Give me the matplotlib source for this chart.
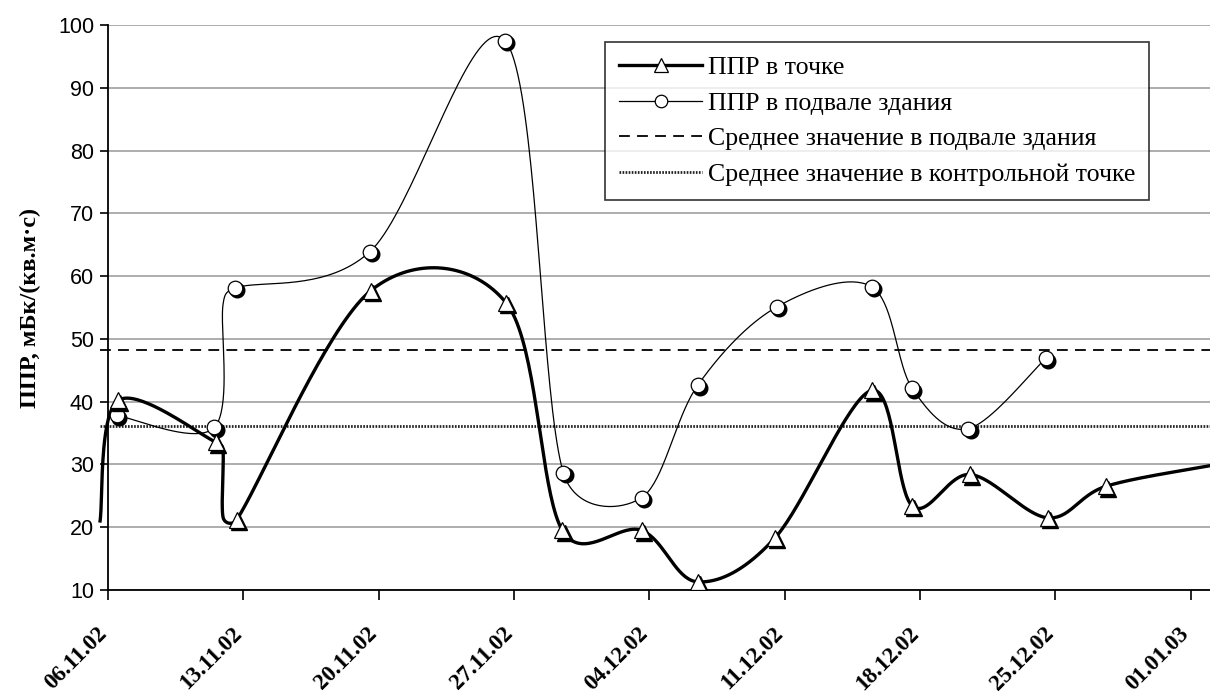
import numpy as np
import matplotlib
matplotlib.use('Agg')
import matplotlib.pyplot as plt
from matplotlib import font_manager, transforms
from matplotlib.lines import Line2D

# ---------------- data ----------------
# x = days since 06.11.02
tick_days = [0, 7, 14, 21, 28, 35, 42, 49, 56]
tick_labels = ['06.11.02', '13.11.02', '20.11.02', '27.11.02', '04.12.02',
               '11.12.02', '18.12.02', '25.12.02', '01.01.03']

point_days = [-0.41, 0.53, 5.6, 5.95, 5.95, 6.66, 13.6, 20.6, 23.5, 27.6,
              30.5, 34.5, 39.5, 41.6, 44.6, 48.6, 51.6, 57.0]
point_vals = [21.0, 40.2, 33.5, 32.3, 21.6, 21.2, 57.7, 55.7, 19.5, 19.5,
              11.3, 18.3, 41.8, 23.4, 28.4, 21.5, 26.5, 29.8]
point_shown = [0, 1, 1, 0, 0, 1, 1, 1, 1, 1, 1, 1, 1, 1, 1, 1, 1, 0]

base_days = [0.45, 5.5, 5.95, 6.57, 13.55, 20.54, 23.55, 27.6, 30.5,
             34.6, 39.5, 41.6, 44.5, 48.5]
base_vals = [37.8, 35.9, 55.5, 58.1, 63.9, 97.5, 28.7, 24.7, 42.6,
             55.1, 58.3, 42.1, 35.7, 46.9]
base_shown = [1, 1, 0, 1, 1, 1, 1, 1, 1, 1, 1, 1, 1, 1]

mean_base = 48.2
mean_point = 36.2

labels = ['ППР в точке', 'ППР в подвале здания',
          'Среднее значение в подвале здания',
          'Среднее значение в контрольной точке']
ylabel = 'ППР, мБк/(кв.м·с)'

# ---------------- layout ----------------
L, R, T, B = 108, 1210, 25, 590
XMIN, XMAX, YMIN, YMAX = 0, 57.0, 10, 100
SX = (R - L) / (XMAX - XMIN)
SY = (B - T) / (YMAX - YMIN)


def excel_smooth(x, y, n=40):
    """Bezier smoothing similar to Excel's smoothed lines (screen space)."""
    X = np.asarray(x, float) * SX
    Y = np.asarray(y, float) * SY
    P = np.column_stack([X, Y])
    N = len(P)
    out_arm = np.zeros_like(P)
    in_arm = np.zeros_like(P)
    for i in range(N):
        prv = P[i - 1] if i > 0 else P[i]
        nxt = P[i + 1] if i < N - 1 else P[i]
        tan = nxt - prv
        ln = np.hypot(*tan)
        if ln == 0:
            continue
        u = tan / ln
        a = ln / 6
        d_prev = np.hypot(*(P[i] - prv))
        d_next = np.hypot(*(nxt - P[i]))
        out_arm[i] = u * min(a, d_next / 2) if d_next > 0 else 0
        in_arm[i] = u * min(a, d_prev / 2) if d_prev > 0 else 0
    t = np.linspace(0, 1, n)[:, None]
    segs = []
    for i in range(N - 1):
        p0, p3 = P[i], P[i + 1]
        c1, c2 = p0 + out_arm[i], p3 - in_arm[i + 1]
        b = ((1 - t) ** 3 * p0 + 3 * (1 - t) ** 2 * t * c1
             + 3 * (1 - t) * t ** 2 * c2 + t ** 3 * p3)
        segs.append(b if i == 0 else b[1:])
    S = np.vstack(segs)
    return S[:, 0] / SX, S[:, 1] / SY


serif = 'Liberation Serif'
names = {f.name for f in font_manager.fontManager.ttflist}
narrow = 'Liberation Sans Narrow' if 'Liberation Sans Narrow' in names else 'Liberation Sans'

# ---------------- figure ----------------
fig = plt.figure(figsize=(12.1, 6.97), dpi=100)
ax = fig.add_axes([L / 1210, 1 - B / 697, (R - L) / 1210, (B - T) / 697])
ax.set_xlim(XMIN, XMAX)
ax.set_ylim(YMIN, YMAX)

ax.set_yticks(range(10, 101, 10))
ax.yaxis.grid(True, color='#a0a0a0', lw=1.2)
ax.set_axisbelow(True)
for s in ('top', 'right'):
    ax.spines[s].set_visible(False)
for s in ('left', 'bottom'):
    ax.spines[s].set_linewidth(1.3)
    ax.spines[s].set_color('black')

ax.set_xticks(tick_days)
ax.set_xticklabels(tick_labels, rotation=45, ha='right', rotation_mode='anchor',
                   fontfamily=serif, fontweight='bold', fontsize=16.5)
ax.tick_params(axis='x', direction='out', length=7, width=1.2, pad=17)
ax.tick_params(axis='y', direction='out', length=6, width=1.2, pad=4,
               labelsize=15.5)
shift = transforms.ScaledTranslation(-0.12, 0, fig.dpi_scale_trans)
for lab in ax.get_xticklabels():
    lab.set_transform(lab.get_transform() + shift)
for lab in ax.get_yticklabels():
    lab.set_fontfamily(narrow)

ax.set_ylabel(ylabel, fontfamily=serif, fontweight='bold', fontsize=17.5,
              labelpad=12)

# mean lines (extend slightly left of the axis like the original)
ax.hlines(mean_base, -0.41, XMAX, colors='black', lw=1.3,
          linestyles=(0, (6, 4)), clip_on=False, zorder=2)
ax.hlines(mean_point, -0.41, XMAX, colors='#222222', lw=2.0,
          linestyles=(0, (0.6, 0.5)), clip_on=False, zorder=2)

# smooth curves
bx, by = excel_smooth(base_days, base_vals)
ax.plot(bx, by, color='black', lw=0.9, zorder=3, clip_on=False)
px, py = excel_smooth(point_days, point_vals)
ax.plot(px, py, color='black', lw=2.4, zorder=4, clip_on=False,
        solid_joinstyle='round')

# markers with shadow
shadow = transforms.offset_copy(ax.transData, fig=fig, x=2.2, y=-2.2, units='dots')


def draw_markers(days, vals, shown, marker, ms, z):
    d = [a for a, s in zip(days, shown) if s]
    v = [b for b, s in zip(vals, shown) if s]
    ax.plot(d, v, ls='none', marker=marker, ms=ms, mfc='black', mec='black',
            mew=1.0, transform=shadow, zorder=z)
    ax.plot(d, v, ls='none', marker=marker, ms=ms, mfc='white', mec='black',
            mew=0.9, zorder=z + 0.5)


draw_markers(base_days, base_vals, base_shown, 'o', 10.5, 5)
draw_markers(point_days, point_vals, point_shown, '^', 11, 6)

# legend
handles = [
    Line2D([], [], color='black', lw=2.4, marker='^', ms=10, mfc='white', mec='black', mew=0.9),
    Line2D([], [], color='black', lw=0.9, marker='o', ms=9, mfc='white', mec='black', mew=0.9),
    Line2D([], [], color='black', lw=1.3, ls=(0, (6, 4))),
    Line2D([], [], color='#222222', lw=2.0, ls=(0, (0.6, 0.5))),
]
leg = ax.legend(handles, labels, loc='upper left',
                bbox_to_anchor=((605 - L) / (R - L), (B - 42) / (B - T)),
                borderaxespad=0, frameon=True, fancybox=False, shadow=False,
                handlelength=3.2, handletextpad=0.22, labelspacing=0.48,
                borderpad=0.55, prop={'family': serif, 'size': 18.6})
leg.get_frame().set_edgecolor('black')
leg.get_frame().set_linewidth(1.2)
leg.set_zorder(10)

fig.savefig('out.png', dpi=100)
